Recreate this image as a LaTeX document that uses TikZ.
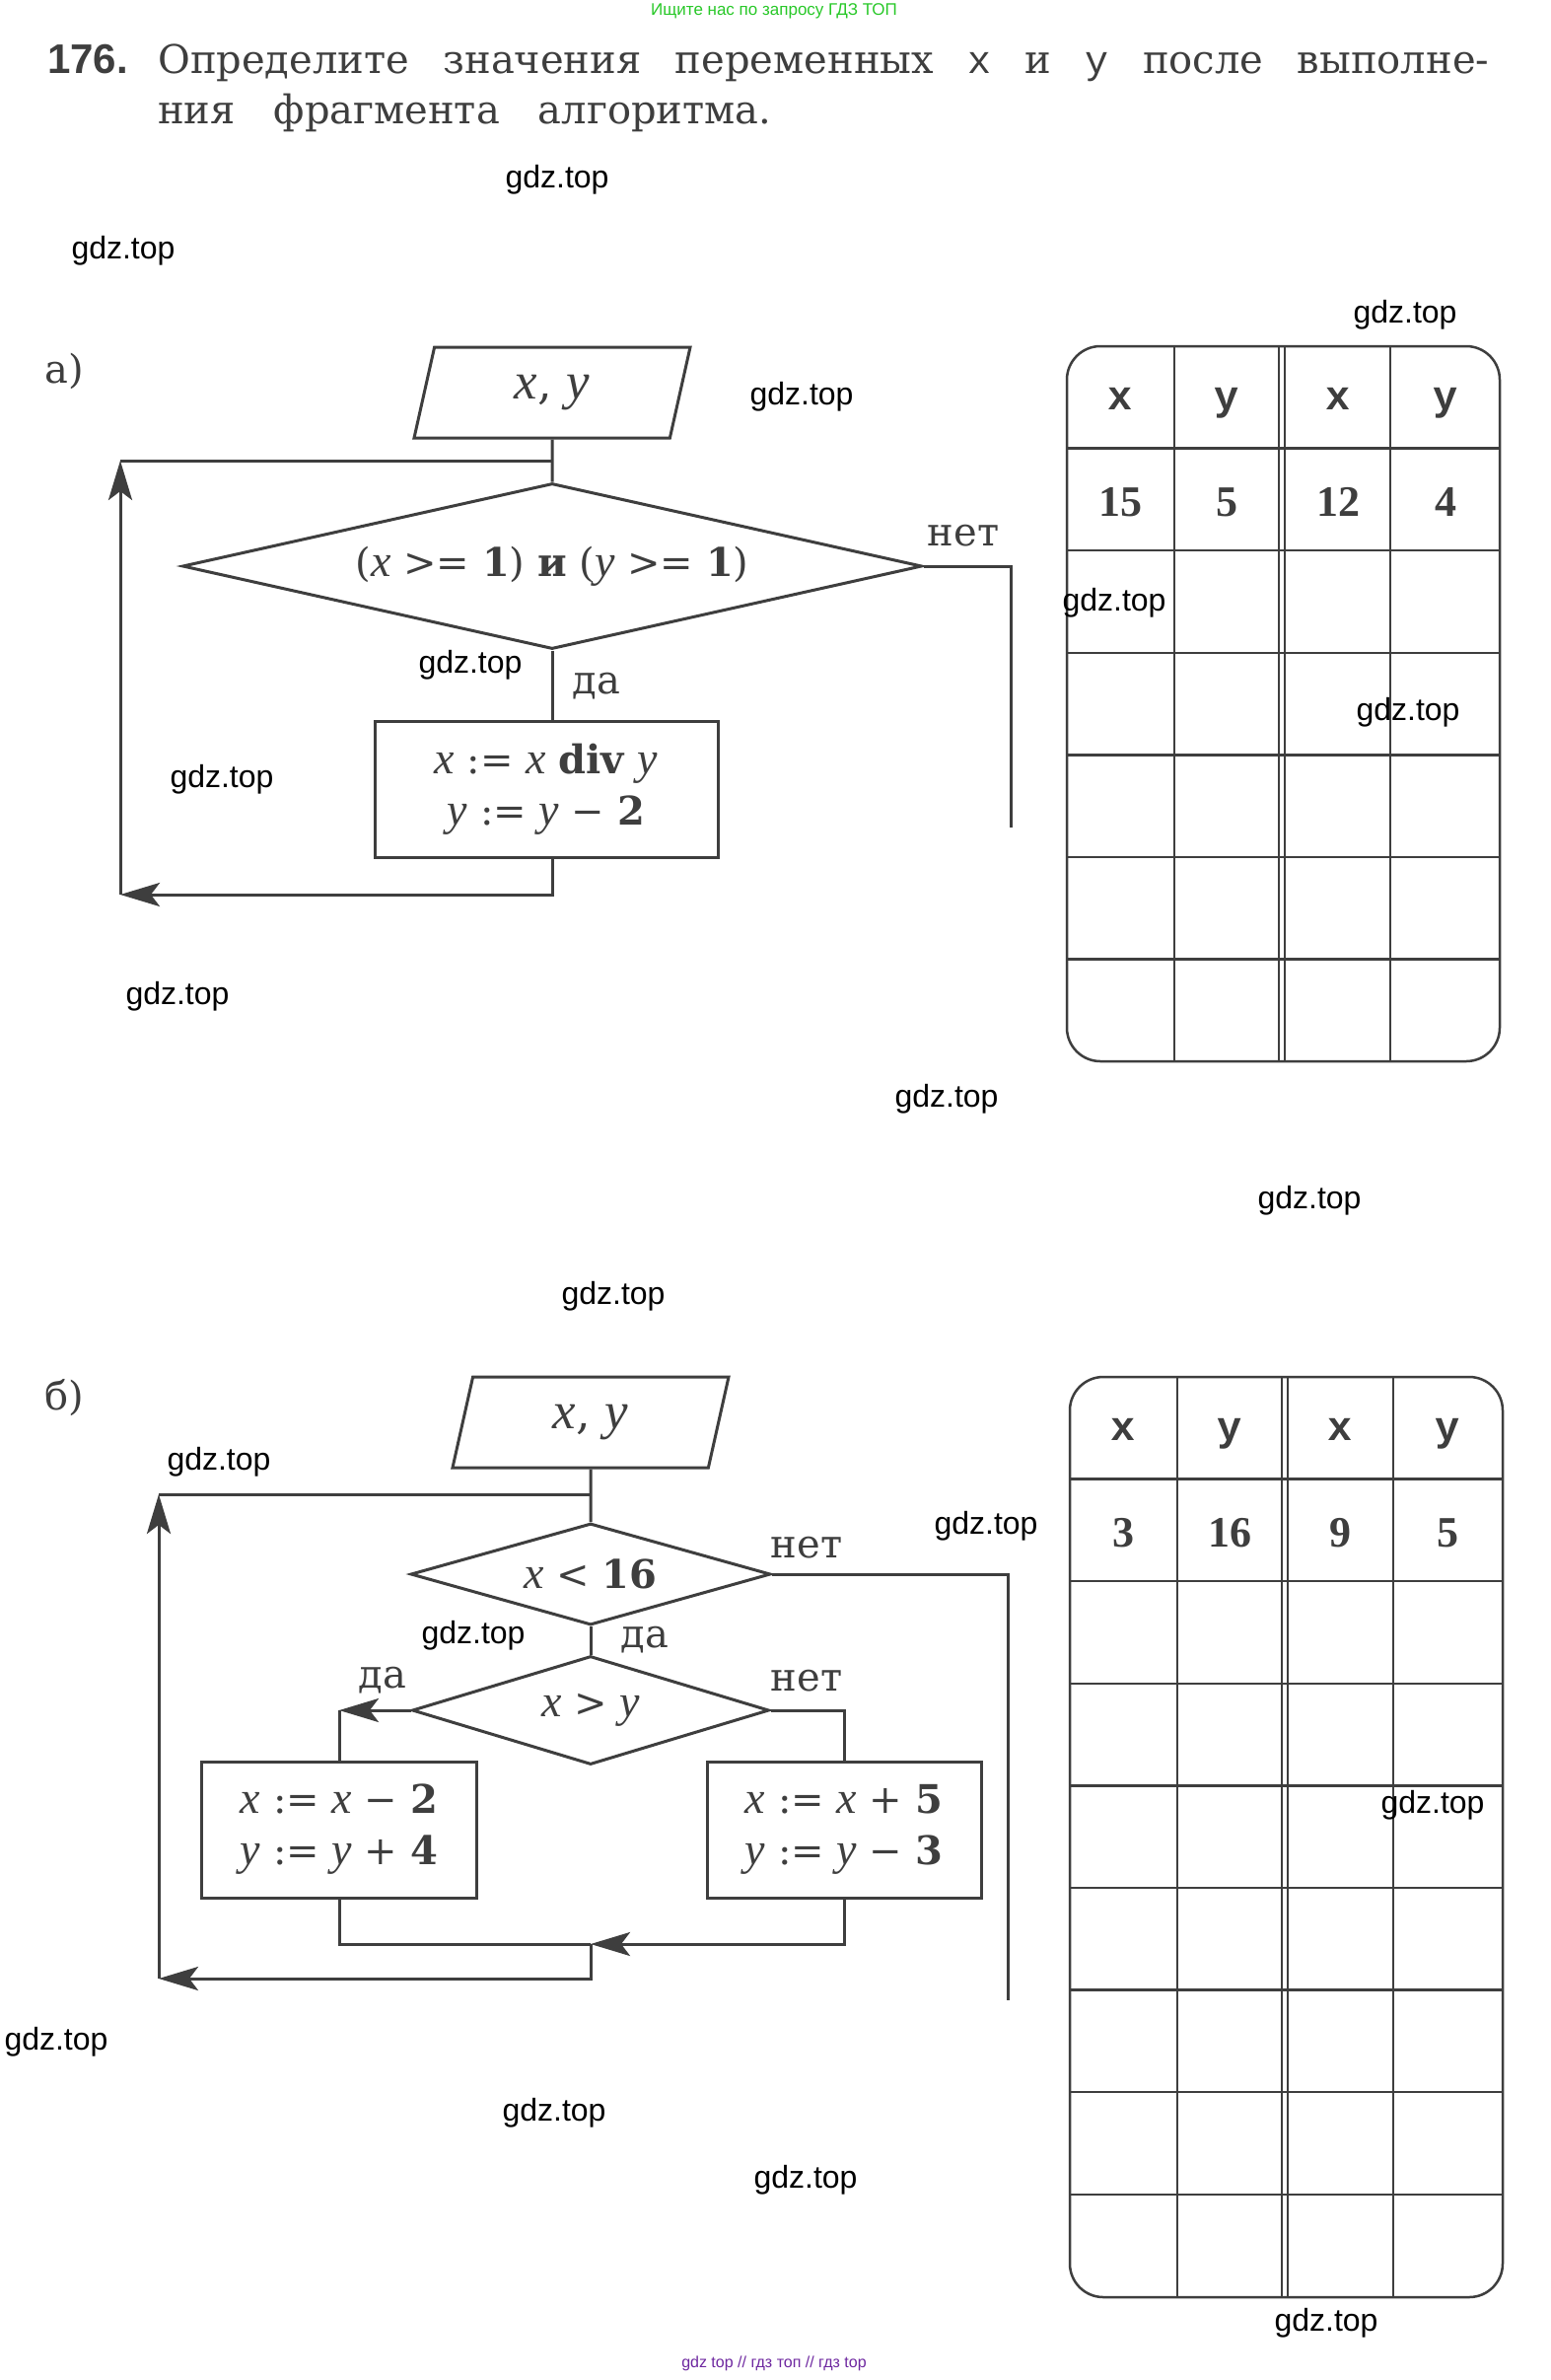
\documentclass[tikz,border=0pt]{standalone}
\usepackage{fontspec}
\setmainfont{DejaVu Serif}
\newfontfamily\numfont{Liberation Serif}
\newfontfamily\varfont[Scale=1.15]{Liberation Serif}
\newfontfamily\headfont{Liberation Mono}
\newfontfamily\markfont{Liberation Sans}
\usetikzlibrary{arrows.meta, positioning, shapes.geometric, calc}
\definecolor{inkgray}{RGB}{62,62,62}
\definecolor{gdzgreen}{RGB}{40,200,40}
\definecolor{gdzpurple}{RGB}{110,40,160}
\newcommand{\vx}{{\varfont\itshape x}}
\newcommand{\vy}{{\varfont\itshape y}}
\tikzset{
  io/.style={draw=inkgray, line width=3pt, trapezium, trapezium left angle=60, trapezium right angle=120,
             trapezium stretches body=true, minimum width=280pt, minimum height=92pt, inner sep=0pt,
             text=inkgray, font=\fontsize{46}{52}\selectfont},
  cond/.style={draw=inkgray, line width=3pt, diamond, inner sep=0pt, text=inkgray, font=\fontsize{40}{52}\selectfont},
  act/.style={draw=inkgray, line width=3pt, rectangle, inner sep=0pt, align=center, text=inkgray,
              font=\fontsize{40}{52}\selectfont},
  link/.style={draw=inkgray, line width=3pt},
  flow/.style={link, -{Stealth[length=40pt, width=24pt, inset=9pt]}},
  lbl/.style={text=inkgray, inner sep=0pt, font=\fontsize{40}{46}\selectfont},
  task/.style={text=inkgray, inner sep=0pt, font=\fontsize{40}{51}\selectfont},
  tabline/.style={draw=inkgray, line width=2.5pt},
  head/.style={text=inkgray, inner sep=0pt, anchor=base, font=\headfont\bfseries\fontsize{42}{46}\selectfont},
  val/.style={text=inkgray, inner sep=0pt, anchor=base, font=\numfont\bfseries\fontsize{44}{48}\selectfont},
  wmark/.style={text=black, inner sep=0pt, font=\markfont\fontsize{32}{36}\selectfont},
}

\begin{document}
\begin{tikzpicture}[x=1pt, y=-1pt]
\fill[white] (0,0) rectangle (1573,2413);
\useasboundingbox (0,0) rectangle (1573,2413);

\node[text=gdzgreen, font=\markfont\fontsize{17}{20}\selectfont] (hdr) at (785,11) {Ищите нас по запросу ГДЗ ТОП};
\node[text=inkgray, inner sep=0pt, anchor=base west, font=\markfont\bfseries\fontsize{42}{46}\selectfont] (num) at (48,74) {176.};
\node[task, anchor=base west] (task1) at (160,74)
  {\makebox[1350pt][s]{Определите значения переменных {\headfont x} и {\headfont y} после выполне-}};
\node[task, anchor=base west] (task2) at (160,125) {\makebox[622pt][s]{ния фрагмента алгоритма.}};

\node[task, anchor=base west] (parta) at (45,388) {а)};
\node[task, anchor=base west] (partb) at (45,1429) {б)};

\node[io] (pa) at (560,398) {\vx, \vy};
\node[cond, minimum width=750pt, minimum height=168pt, aspect=4.46] (da) at (560,574)
  {(\vx\ >= \textbf{1}) \textbf{и} (\vy\ >= \textbf{1})};
\node[act, minimum width=348pt, minimum height=138pt] (ba) at (554,800)
  {\vx\ := \vx\ \textbf{div} \vy\\\vy\ := \vy\ − \textbf{2}};
\coordinate (ja) at (560,467);
\coordinate (la) at (122,907);
\coordinate (ea) at (1025,839);
\draw[link] (pa.south) -- (da.north);
\draw[link] (da.south) -- (da.south |- ba.north);
\draw[link] (da.east) -| (ea);
\draw[flow] (da.south |- ba.south) |- (la);
\draw[flow] (la) -- (la |- ja);
\draw[link] (la |- ja) -- (ja);
\node[lbl] (a-no) at (977,543) {нет};
\node[lbl] (a-yes) at (605,696) {да};

\node[io] (pb) at (599,1442) {\vx, \vy};
\node[cond, minimum width=365pt, minimum height=103pt, aspect=3.54] (db1) at (599,1596) {\vx\ < \textbf{16}};
\node[cond, minimum width=362pt, minimum height=110pt, aspect=3.3] (db2) at (599,1734) {\vx\ > \vy};
\node[act, minimum width=279pt, minimum height=138pt] (bb1) at (344,1855)
  {\vx\ := \vx\ − \textbf{2}\\\vy\ := \vy\ + \textbf{4}};
\node[act, minimum width=278pt, minimum height=138pt] (bb2) at (856,1855)
  {\vx\ := \vx\ + \textbf{5}\\\vy\ := \vy\ − \textbf{3}};
\coordinate (jb) at (599,1515);
\coordinate (mb) at (599,1971);
\coordinate (lb) at (161,2006);
\coordinate (eb) at (1022,2028);
\draw[link] (pb.south) -- (db1.north);
\draw[link] (db1.south) -- (db2.north);
\draw[link] (db1.east) -| (eb);
\draw[flow] (db2.west) -- (db2.west -| bb1.north);
\draw[link] (db2.west -| bb1.north) -- (bb1.north);
\draw[link] (db2.east) -| (bb2.north);
\draw[link] (bb1.south) |- (mb);
\draw[flow] (bb2.south) |- (mb);
\draw[flow] (mb) |- (lb);
\draw[flow] (lb) -- (lb |- jb);
\draw[link] (lb |- jb) -- (jb);
\node[lbl] (b-no1) at (818,1569) {нет};
\node[lbl] (b-yes1) at (654,1663) {да};
\node[lbl] (b-yes2) at (388,1704) {да};
\node[lbl] (b-no2) at (818,1704) {нет};

\draw[tabline, rounded corners=34pt] (1082,351) rectangle (1521,1076);
\foreach \cx in {1191,1297,1303,1410}
  \draw[tabline] (\cx,351) -- (\cx,1076);
\foreach \r in {1,...,6}
  \draw[tabline] (1082,{351+103.6*\r}) -- (1521,{351+103.6*\r});
\foreach \cx/\t [count=\i] in {1136/x,1244/y,1357/x,1466/y}
  \node[head] (ta-h\i) at (\cx,415) {\t};
\foreach \cx/\t [count=\i] in {1136/15,1244/5,1357/12,1466/4}
  \node[val] (ta-v\i) at (\cx,523) {\t};

\draw[tabline, rounded corners=34pt] (1085,1396) rectangle (1524,2329);
\foreach \cx in {1194,1300,1306,1413}
  \draw[tabline] (\cx,1396) -- (\cx,2329);
\foreach \r in {1,...,8}
  \draw[tabline] (1085,{1396+103.6*\r}) -- (1524,{1396+103.6*\r});
\foreach \cx/\t [count=\i] in {1139/x,1247/y,1359/x,1468/y}
  \node[head] (tb-h\i) at (\cx,1460) {\t};
\foreach \cx/\t [count=\i] in {1139/3,1247/16,1359/9,1468/5}
  \node[val] (tb-v\i) at (\cx,1568) {\t};

\foreach \px/\py [count=\k] in {565/182,125/254,1425/319,813/402,1130/611,477/674,1428/722,225/790,
    180/1010,960/1114,1328/1217,622/1314,222/1482,1000/1547,480/1658,1453/1830,57/2070,562/2142,
    817/2210,1345/2355}
  \node[wmark] (wm\k) at (\px,\py) {gdz.top};
\node[text=gdzpurple, font=\markfont\fontsize{16}{18}\selectfont] (ftr) at (785,2396) {gdz top // гдз топ // гдз top};
\end{tikzpicture}
\end{document}
